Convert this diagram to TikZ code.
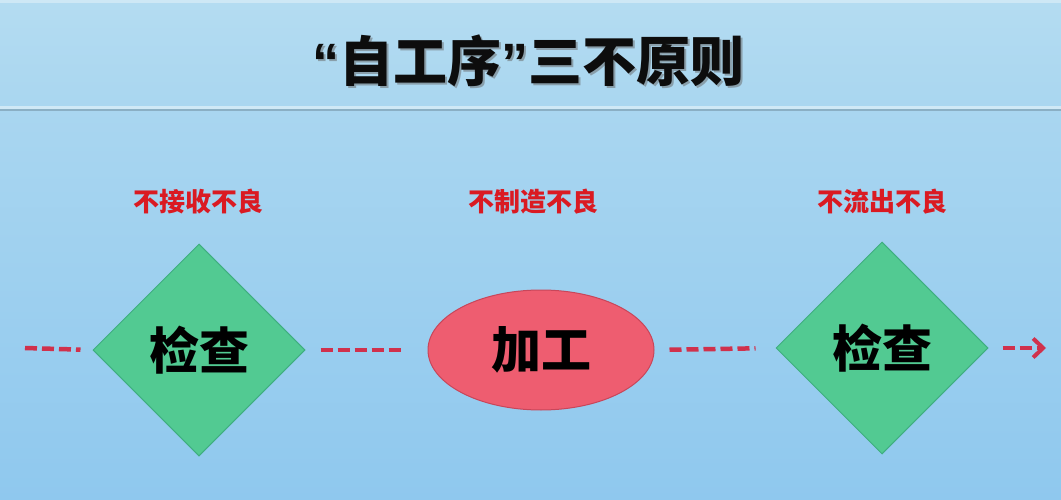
\documentclass[tikz,border=0pt]{standalone}
\usepackage{fontspec}
\newfontfamily\cjk{Noto Sans CJK SC}
\newfontfamily\cjkblack{Noto Sans CJK SC Black}
\newfontfamily\latq{Liberation Sans}
\usetikzlibrary{shapes.geometric,arrows.meta}
\definecolor{bgtop}{HTML}{B4DCF1}
\definecolor{bgmid}{HTML}{A9D6F0}
\definecolor{bgbot}{HTML}{8FC8EE}
\definecolor{dgreen}{HTML}{52CA92}
\definecolor{dgreenb}{HTML}{3FAE80}
\definecolor{epink}{HTML}{EE5D70}
\definecolor{epinkb}{HTML}{C8465A}
\definecolor{dashred}{HTML}{D0314C}
\definecolor{labred}{HTML}{DA1A22}
\newcommand{\ttlq}{{\latq\bfseries “}}
\newcommand{\ttrq}{{\latq\bfseries ”}}
\tikzset{
  checkbox/.style={diamond,aspect=1,inner sep=0pt,minimum width=212pt,minimum height=212pt,
    fill=dgreen,draw=dgreenb,line width=1pt,font=\cjkblack\fontsize{50}{50}\selectfont,text=black},
  procbox/.style={ellipse,inner sep=0pt,minimum width=226pt,minimum height=120pt,
    fill=epink,draw=epinkb,line width=1pt,font=\cjkblack\fontsize{50}{50}\selectfont,text=black},
  rule/.style={font=\cjkblack\fontsize{26}{26}\selectfont,text=labred},
  flow/.style={draw=dashred,line width=4.5pt,dash pattern=on 12pt off 5pt},
  titlefont/.style={font=\cjkblack\fontsize{54}{54}\selectfont},
}
\begin{document}
\begin{tikzpicture}[x=1pt,y=-1pt]
\useasboundingbox (0,0) rectangle (1061,500);
% background
\shade[top color=bgtop,bottom color=bgmid] (0,0) rectangle (1061,109);
\shade[top color=bgmid,bottom color=bgbot] (0,109) rectangle (1061,500);
\fill[white,opacity=0.35] (0,0) rectangle (1061,3);
\fill[white,opacity=0.45] (0,106) rectangle (1061,109);
\fill[black!30!bgmid,opacity=0.6] (0,109) rectangle (1061,111);
% title
\node[titlefont,text=black!60,opacity=0.5] at (530,63) {\ttlq 自工序\ttrq 三不原则};
\node (title) [titlefont,text=black!95] at (528,61) {\ttlq 自工序\ttrq 三不原则};
% labels
\node (l1) [rule] at (198,202) {不接收不良};
\node (l2) [rule] at (533,202) {不制造不良};
\node (l3) [rule] at (882,202) {不流出不良};
% shapes
\node (d1) [checkbox] at (199,350) {检查};
\node (e)  [procbox]  at (541,350) {加工};
\node (d2) [checkbox] at (882,348) {检查};
% connectors
\coordinate (start) at (25,348);
\coordinate (finish) at (1046,348);
\draw[flow,shorten >=12pt] (start) -- (d1.west);
\draw[flow,shorten <=15pt,shorten >=23pt] (d1.east) -- (e.west);
\draw[flow,shorten <=15pt,shorten >=20pt] (e.east) -- (d2.west);
\draw[flow,shorten <=14pt,-{Straight Barb[length=10pt,width=19pt,line width=4pt]}] (d2.east) -- (finish);
\end{tikzpicture}
\end{document}
